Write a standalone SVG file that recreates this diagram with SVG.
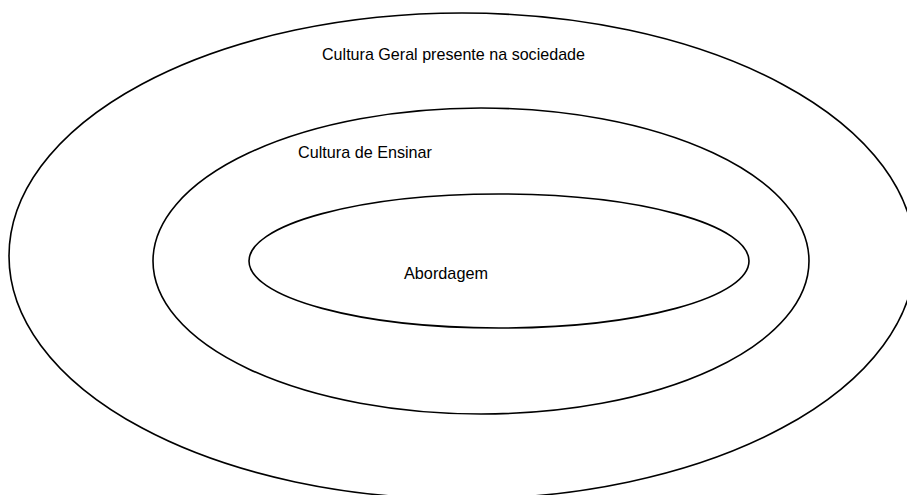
<svg xmlns="http://www.w3.org/2000/svg" width="907" height="495" viewBox="0 0 907 495">
<style>
.ring{fill:none;stroke:#000;stroke-width:1.6}
.lbl{font-family:"Liberation Sans",Arial,sans-serif;font-size:17px;fill:#000}
</style>
<rect width="907" height="495" fill="#fff"/>
<g id="outer">
<ellipse class="ring" cx="462" cy="256" rx="453" ry="243"/>
<text class="lbl" x="322" y="60" textLength="263" lengthAdjust="spacingAndGlyphs">Cultura Geral presente na sociedade</text>
</g>
<g id="middle">
<ellipse class="ring" cx="481" cy="261" rx="328" ry="153"/>
<text class="lbl" x="298" y="158" textLength="134" lengthAdjust="spacingAndGlyphs">Cultura de Ensinar</text>
</g>
<g id="inner">
<ellipse class="ring" cx="499" cy="261" rx="250" ry="67"/>
<text class="lbl" x="404" y="279" textLength="84" lengthAdjust="spacingAndGlyphs">Abordagem</text>
</g>
<g id="connectors"/>
</svg>
